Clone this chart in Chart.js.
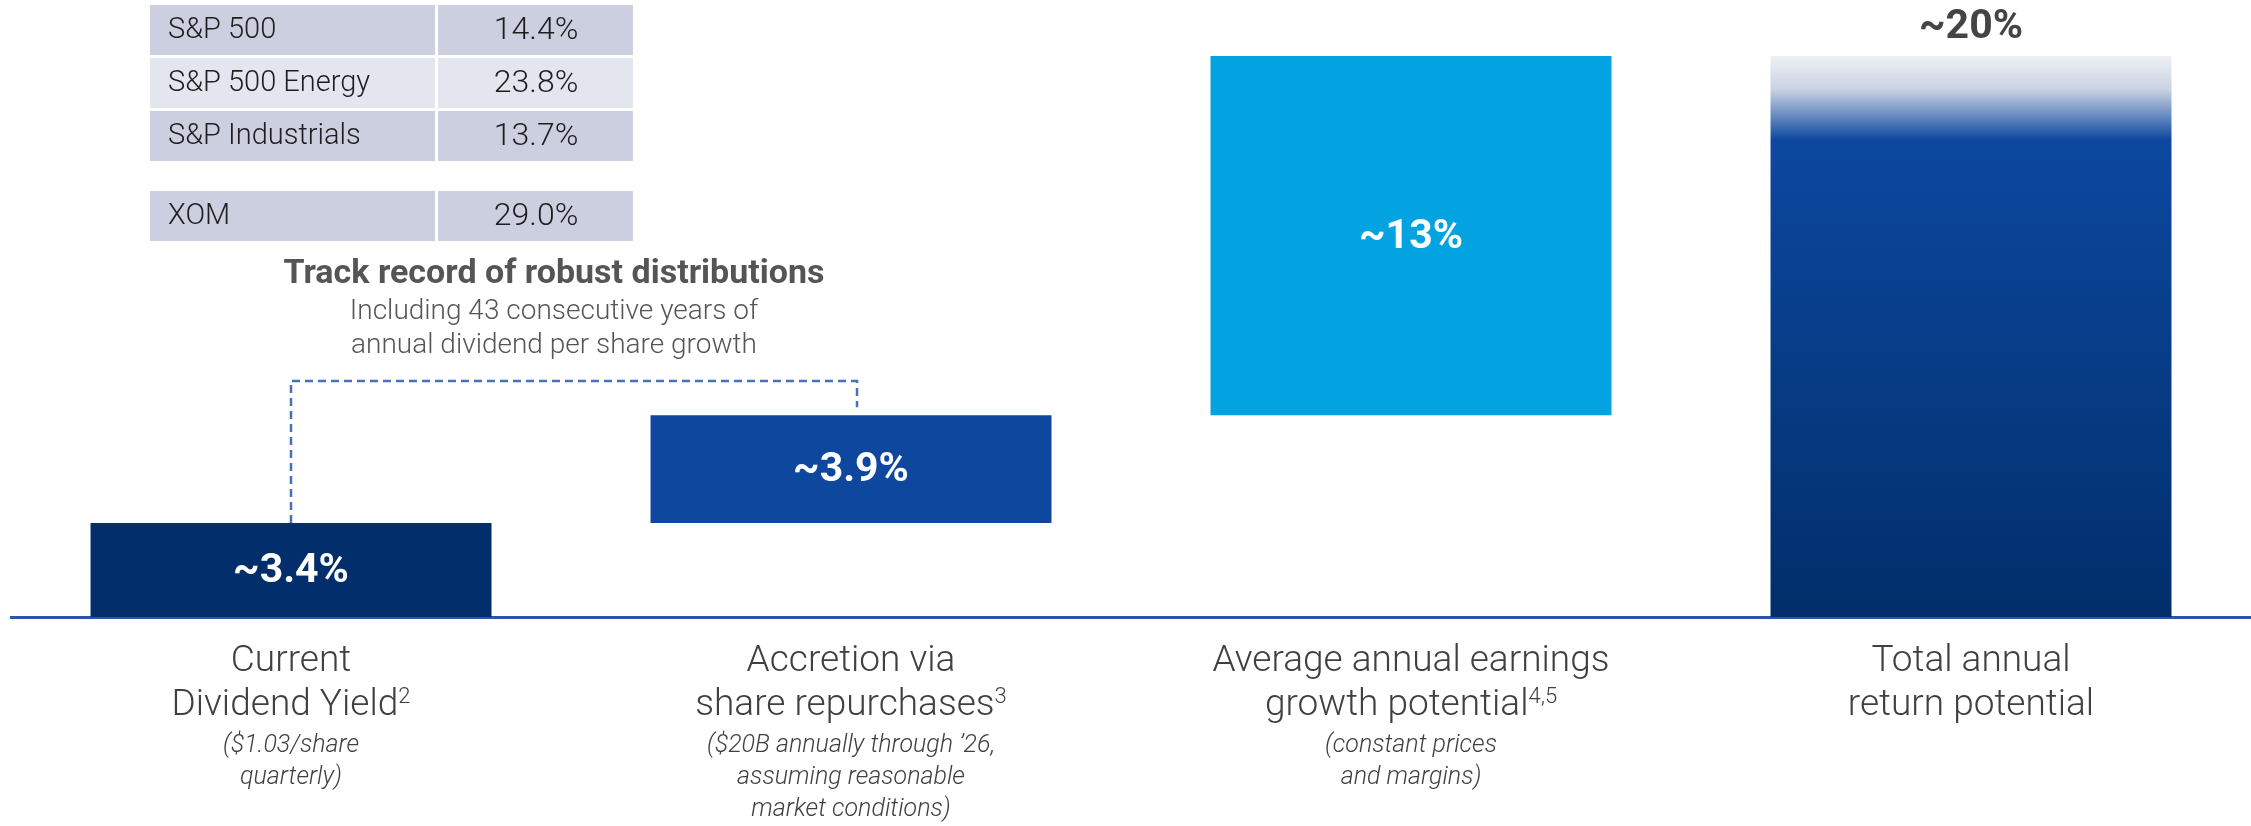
<!DOCTYPE html>
<html>
<head>
<meta charset="utf-8">
<script src="https://cdn.jsdelivr.net/npm/chart.js@4.4.1/dist/chart.umd.min.js"></script>
<style>
  body { margin: 0; background: #fff; }
  #returnChart { display: block; }
</style>
</head>
<body>
<canvas id="returnChart" width="2251" height="826"></canvas>
<script>
// chart values
const categories = ['Current Dividend Yield', 'Accretion via share repurchases', 'Average annual earnings growth potential', 'Total annual return potential'];
const increments = [3.4, 3.9, 13.0];
const totalReturn = 20.3;
const barText = ['~3.4%', '~3.9%', '~13%', '~20%'];

// category label text
const mainLines = [['Current', 'Dividend Yield'], ['Accretion via', 'share repurchases'], ['Average annual earnings', 'growth potential'], ['Total annual', 'return potential']];
const superscripts = ['2', '3', '4,5', ''];
const noteLines = [['($1.03/share', 'quarterly)'], ['($20B annually through \u201926,', 'assuming reasonable', 'market conditions)'], ['(constant prices', 'and margins)'], []];

// small table top left
const tableNames = ['S&P 500', 'S&P 500 Energy', 'S&P Industrials', 'XOM'];
const tableValues = ['14.4%', '23.8%', '13.7%', '29.0%'];

const annotTitle = 'Track record of robust distributions';
const annotLines = ['Including 43 consecutive years of', 'annual dividend per share growth'];

const barColors = ['#022f6b', '#0d479e', '#02a3e0', '#0c489f'];
const FONT = 'Roboto, "Open Sans", sans-serif';

//Build waterfall ranges from the increments
let floating = [];
let run = 0;
increments.forEach(v => {
    floating.push([run, +(run + v).toFixed(1)]);
    run += v;
});
floating.push([0, totalReturn]);

function supText(ctx, text, sup, x, y, font, supFont) {
    ctx.font = font;
    let w = ctx.measureText(text).width;
    ctx.font = supFont;
    let sw = sup ? ctx.measureText(sup).width : 0;
    let start = x - (w + sw) / 2;
    ctx.textAlign = 'left';
    ctx.font = font;
    ctx.fillText(text, start, y);
    if (sup) {
        ctx.font = supFont;
        ctx.fillText(sup, start + w, y - 9);
    }
}

const extras = {
    id: 'extras',
    afterDraw(chart) {
        const c = chart.ctx;
        const meta = chart.getDatasetMeta(0);
        const yScale = chart.scales.y;
        c.save();

        //table
        const rowTops = [5, 58, 111, 191];
        const rowFill = ['#cbcfe0', '#e3e6ef', '#cbcfe0', '#cbcfe0'];
        c.textBaseline = 'middle';
        tableNames.forEach((name, i) => {
            c.fillStyle = rowFill[i];
            c.fillRect(150, rowTops[i], 285, 50);
            c.fillRect(438, rowTops[i], 195, 50);
            c.fillStyle = '#1e1e1e';
            c.font = '300 29px ' + FONT;
            c.textAlign = 'left';
            c.fillText(name, 168, rowTops[i] + 26);
            c.textAlign = 'center';
            c.font = '300 32px ' + FONT;
            c.fillText(tableValues[i], 536, rowTops[i] + 26);
        });

        //annotation text
        c.fillStyle = '#555555';
        c.textAlign = 'center';
        c.font = 'bold 34px ' + FONT;
        c.fillText(annotTitle, 554, 274);
        c.font = '300 28px ' + FONT;
        c.fillText(annotLines[0], 554, 312);
        c.fillText(annotLines[1], 554, 346);

        //dashed connector between first two bars
        const x1 = meta.data[0].x;
        const x2 = meta.data[1].x + 6;
        c.strokeStyle = '#4a70b5';
        c.lineWidth = 2.5;
        c.setLineDash([8, 5]);
        c.beginPath();
        c.moveTo(x1, yScale.getPixelForValue(floating[0][1]));
        c.lineTo(x1, 381);
        c.lineTo(x2, 381);
        c.lineTo(x2, yScale.getPixelForValue(floating[1][1]) - 8);
        c.stroke();
        c.setLineDash([]);

        //value labels
        c.font = 'bold 41px ' + FONT;
        meta.data.forEach((bar, i) => {
            if (i < 3) {
                c.fillStyle = '#ffffff';
                c.fillText(barText[i], bar.x, (bar.y + bar.base) / 2 + 2);
            } else {
                c.fillStyle = '#444444';
                c.fillText(barText[i], bar.x, bar.y - 28);
            }
        });

        //category labels
        meta.data.forEach((bar, i) => {
            c.fillStyle = '#404040';
            c.textAlign = 'center';
            c.font = '300 37px ' + FONT;
            c.fillText(mainLines[i][0], bar.x, 662);
            supText(c, mainLines[i][1], superscripts[i], bar.x, 706, '300 37px ' + FONT, '300 22px ' + FONT);
            c.textAlign = 'center';
            c.font = 'italic 300 25px ' + FONT;
            noteLines[i].forEach((line, j) => {
                c.fillText(line, bar.x, 746 + j * 32);
            });
        });
        c.restore();
    }
};

let ctx = document.getElementById('returnChart').getContext('2d');

let chart = new Chart(ctx, {
    type: 'bar',
    data: {
        labels: categories,
        datasets: [{
            data: floating,
            backgroundColor: (context) => {
                const i = context.dataIndex;
                const ch = context.chart;
                if (i === 3 && ch.chartArea) {
                    const top = ch.scales.y.getPixelForValue(totalReturn);
                    const bottom = ch.scales.y.getPixelForValue(0);
                    const g = ch.ctx.createLinearGradient(0, top, 0, bottom);
                    g.addColorStop(0, '#eef0f4');
                    g.addColorStop(0.06, '#c9d2e3');
                    g.addColorStop(0.15, '#0c489f');
                    g.addColorStop(1, '#012e6a');
                    return g;
                }
                return barColors[i];
            },
            borderWidth: 0,
            barPercentage: 0.716,
            categoryPercentage: 1
        }]
    },
    options: {
        responsive: false,
        maintainAspectRatio: false,
        animation: false,
        layout: {
            padding: { top: 9, left: 11, right: 0, bottom: 209 }
        },
        plugins: {
            legend: { display: false },
            tooltip: { enabled: false }
        },
        scales: {
            x: {
                z: 1,
                grid: { display: false, drawTicks: false },
                ticks: { display: false },
                border: { display: true, color: '#2a57a5', width: 3 }
            },
            y: {
                display: false,
                min: 0,
                max: 22
            }
        }
    },
    plugins: [extras]
});
</script>
</body>
</html>
